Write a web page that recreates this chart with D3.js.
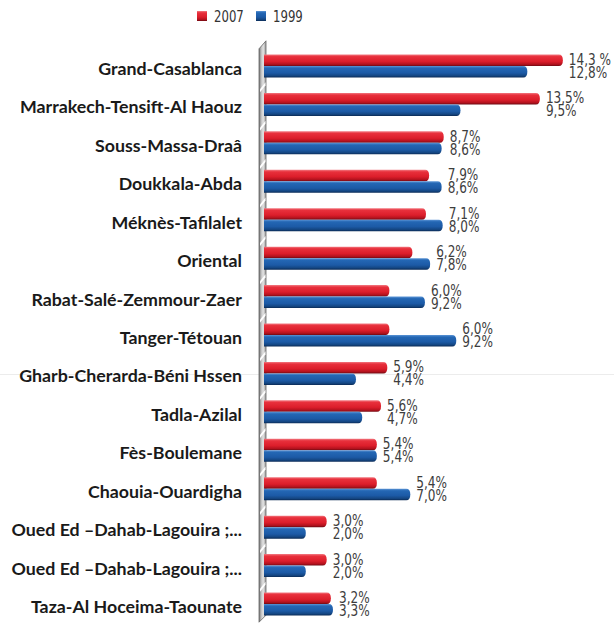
<!DOCTYPE html>
<html><head><meta charset="utf-8">
<script src="https://cdn.jsdelivr.net/npm/d3@7"></script>
<style>body{margin:0;background:#fff}svg{display:block}</style>
</head><body>
<svg id="chart" width="614" height="624"></svg>
<script>
const categories = ["Grand-Casablanca","Marrakech-Tensift-Al Haouz","Souss-Massa-Draâ","Doukkala-Abda","Méknès-Tafilalet","Oriental","Rabat-Salé-Zemmour-Zaer","Tanger-Tétouan","Gharb-Cherarda-Béni Hssen","Tadla-Azilal","Fès-Boulemane","Chaouia-Ouardigha","Oued Ed –Dahab-Lagouira ;...","Oued Ed –Dahab-Lagouira ;...","Taza-Al Hoceima-Taounate"];
const seriesNames = ["2007","1999"];
const values2007 = [14.3, 13.2, 8.6, 7.9, 7.75, 7.1, 6.0, 6.0, 5.9, 5.6, 5.4, 5.4, 3.0, 3.0, 3.2];
const values1999 = [12.6, 9.4, 8.5, 8.5, 8.55, 7.95, 7.7, 9.2, 4.4, 4.7, 5.4, 7.0, 2.0, 2.0, 3.3];
const labels2007 = ["14,3 %","13,5%","8,7%","7,9%","7,1%","6,2%","6,0%","6,0%","5,9%","5,6%","5,4%","5,4%","3,0%","3,0%","3,2%"];
const labels1999 = ["12,8%","9,5%","8,6%","8,6%","8,0%","7,8%","9,2%","9,2%","4,4%","4,7%","5,4%","7,0%","2,0%","2,0%","3,3%"];

const svg = d3.select("#chart");
const defs = svg.append("defs");
function vgrad(id, stops){
  const g = defs.append("linearGradient").attr("id", id).attr("x1",0).attr("y1",0).attr("x2",0).attr("y2",1);
  stops.forEach(s => g.append("stop").attr("offset", s[0]).attr("stop-color", s[1]));
}
vgrad("gRed", [[0,"#f27a82"],[0.18,"#e8303c"],[0.6,"#dc1e2b"],[0.85,"#b3121e"],[1,"#6e0a12"]]);
vgrad("gBlue", [[0,"#5c95d6"],[0.18,"#2467b4"],[0.6,"#1c5aa6"],[0.85,"#144682"],[1,"#0a2a55"]]);
const wg = defs.append("linearGradient").attr("id","gWall").attr("x1",0).attr("y1",0).attr("x2",1).attr("y2",0);
[[0,"#6e6e6e"],[0.3,"#bdbdbd"],[0.6,"#e4e4e4"],[1,"#9a9a9a"]].forEach(s=>wg.append("stop").attr("offset",s[0]).attr("stop-color",s[1]));

const x = d3.scaleLinear().domain([0, 16]).range([264, 264 + 16*20.9]);
const y = d3.scaleBand().domain(d3.range(categories.length)).range([46.8, 623.2]).padding(0);
const bh = 11.5;
const colors = ["url(#gRed)","url(#gBlue)"];
const valFont = "'DejaVu Sans Condensed', 'DejaVu Sans', sans-serif";
const narrow = 0.84;

// faint artifact line
svg.append("line").attr("x1",0).attr("x2",614).attr("y1",374.5).attr("y2",374.5).attr("stroke","#ececec").attr("stroke-width",1);

// wall
const wx0 = 259, wx1 = 266;
const yTop = y.range()[0] - 4, yBot = y.range()[1] - 2;
svg.append("path").attr("d", `M${wx0},${yTop+6} L${wx1},${yTop-2} L${wx1},${yBot-6} L${wx0},${yBot+1} Z`)
  .attr("fill","url(#gWall)").attr("stroke","#666").attr("stroke-width",0.8);
d3.range(1, categories.length).forEach(i => {
  const b = y(i);
  svg.append("path").attr("d", `M${wx0+1},${b+4} L${wx1-0.5},${b-3} L${wx1-0.5},${b} L${wx0+1},${b+7} Z`).attr("fill","#fff");
});

// category labels
svg.append("g").selectAll("text").data(categories).join("text")
  .attr("x", 242).attr("y", (d,i) => y(i) + y.bandwidth()/2 + 9)
  .attr("text-anchor","end")
  .attr("font-family","Lato, 'Open Sans', sans-serif").attr("font-weight","bold").attr("font-size",17.8)
  .attr("fill","#1a1a1a").text(d => d);

// bars
function barPath(x0, x1, y0, h){
  const r = Math.min(4, (x1-x0)/2);
  return `M${x0},${y0} L${x1-r},${y0} Q${x1},${y0} ${x1},${y0+h/2} Q${x1},${y0+h} ${x1-r},${y0+h} L${x0},${y0+h} Z`;
}
const series = [values2007, values1999];
const labelsS = [labels2007, labels1999];
series.forEach((vals, s) => {
  svg.append("g").selectAll("path").data(vals).join("path")
    .attr("d", (v,i) => barPath(x(0), x(v), y(i) + y.bandwidth()/2 - bh + s*bh, bh))
    .attr("fill", colors[s]);
});
// value labels
series.forEach((vals, s) => {
  svg.append("g").selectAll("text").data(vals).join("text")
    .attr("transform", (v,i) => `translate(${x(Math.max(values2007[i], values1999[i])) + 6},${y(i) + y.bandwidth()/2 + s*(bh + 1.5) - 1}) scale(${narrow},1)`)
    .attr("font-family", valFont).attr("font-size",16)
    .attr("fill","#3d3d3d").text((v,i) => labelsS[s][i]);
});

// legend
const lg = svg.append("g");
const lx = [197, 256];
seriesNames.forEach((n, s) => {
  lg.append("rect").attr("x", lx[s]).attr("y", 11).attr("width", 10).attr("height", 10).attr("fill", colors[s]);
  lg.append("text").attr("transform", `translate(${lx[s] + 17},22) scale(${narrow},1)`)
    .attr("font-family", valFont).attr("font-size",15.5)
    .attr("fill","#333").text(n);
});
</script>
</body></html>
